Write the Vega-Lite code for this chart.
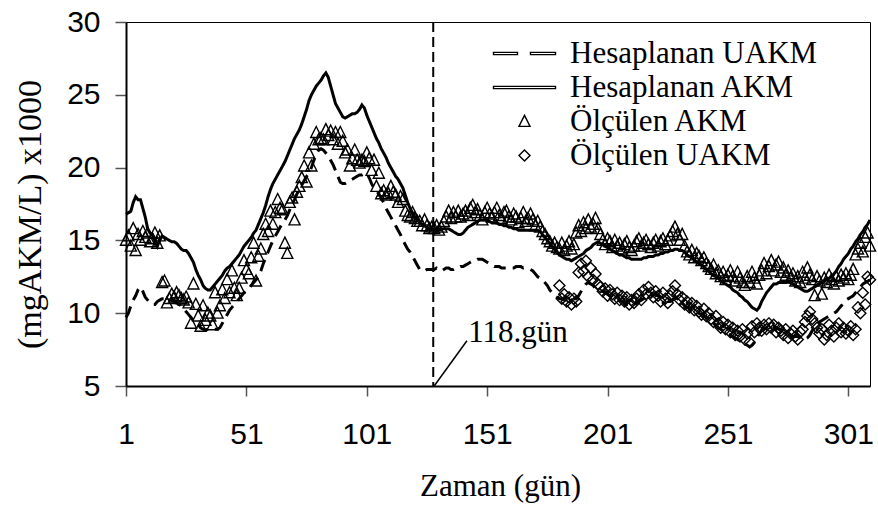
{
"$schema":"https://vega.github.io/schema/vega-lite/v6.json",
"width":744,"height":364,
"autosize":{"type":"none"},
"padding":{"left":126,"top":22,"right":8,"bottom":124},
"background":"white",
"config":{"view":{"stroke":"black","strokeWidth":1},"font":"Liberation Sans"},
"datasets":{"main":[
{"d":1,"A":16.8,"U":9.7,"a":15.0},{"d":2,"A":16.9,"U":10.0,"a":15.3},{"d":3,"A":17.0,"U":10.5,"a":14.6},{"d":4,"A":17.6,"U":10.9,"a":15.8},{"d":5,"A":18.0,"U":11.2,"a":14.3},
{"d":6,"A":17.8,"U":11.6,"a":15.4},{"d":7,"A":17.8,"U":11.8,"a":15.0},{"d":8,"A":17.2,"U":11.5,"a":15.6},{"d":9,"A":16.6,"U":11.1,"a":15.2},{"d":10,"A":15.8,"U":10.9,"a":15.5},
{"d":11,"A":15.5,"U":10.7,"a":14.9},{"d":12,"A":15.4,"U":10.6,"a":15.1},{"d":13,"A":15.0,"U":10.6,"a":15.5},{"d":14,"A":14.6,"U":10.8,"a":14.8},{"d":15,"A":15.0,"U":10.9,"a":15.3},
{"d":16,"A":15.3,"U":11.0,"a":12.1},{"d":17,"A":15.2,"U":11.0,"a":12.2},{"d":18,"A":15.1,"U":11.0,"a":10.7},{"d":19,"A":15.0,"U":11.0,"a":11.0},{"d":20,"A":14.9,"U":10.9,"a":11.3},
{"d":21,"A":14.9,"U":10.8,"a":11.1},{"d":22,"A":14.8,"U":10.7,"a":11.4},{"d":23,"A":14.6,"U":10.6,"a":11.2},{"d":24,"A":14.4,"U":10.5,"a":11.0},{"d":25,"A":14.3,"U":10.3,"a":10.9},
{"d":26,"A":14.3,"U":10.1,"a":11.1},{"d":27,"A":14.1,"U":9.9,"a":10.7},{"d":28,"A":13.8,"U":9.7,"a":9.3},{"d":29,"A":13.5,"U":9.5,"a":12.0},{"d":30,"A":13.0,"U":9.3,"a":10.6},
{"d":31,"A":12.6,"U":9.2,"a":9.8},{"d":32,"A":12.3,"U":9.0,"a":9.1},{"d":33,"A":11.9,"U":8.9,"a":10.5},{"d":34,"A":11.7,"U":8.85,"a":9.5},{"d":35,"A":11.6,"U":8.9,"a":10.0},
{"d":36,"A":11.6,"U":8.95,"a":9.8},{"d":37,"A":11.8,"U":8.9,"a":9.2},{"d":38,"A":12.0,"U":8.9,"a":11.4},{"d":39,"A":12.2,"U":8.9,"a":10.0},{"d":40,"A":12.4,"U":9.0,"a":10.5},
{"d":41,"A":12.6,"U":9.3,"a":11.6},{"d":42,"A":12.9,"U":9.6,"a":11.0},{"d":43,"A":13.1,"U":9.9,"a":12.3},{"d":44,"A":13.2,"U":10.2,"a":11.4},{"d":45,"A":13.4,"U":10.4,"a":12.9},
{"d":46,"A":13.6,"U":10.6,"a":11.7},{"d":47,"A":13.8,"U":10.8,"a":11.2},{"d":48,"A":14.0,"U":11.0,"a":11.7},{"d":49,"A":14.3,"U":11.2,"a":12.4},{"d":50,"A":14.6,"U":11.4,"a":13.6},
{"d":51,"A":14.8,"U":11.6,"a":13.0},{"d":52,"A":15.0,"U":11.7,"a":12.7},{"d":53,"A":15.2,"U":11.9,"a":13.8},{"d":54,"A":15.5,"U":12.1,"a":14.8},{"d":55,"A":15.7,"U":12.3,"a":12.2},
{"d":56,"A":16.1,"U":12.5,"a":13.9},{"d":57,"A":16.5,"U":12.9,"a":14.4},{"d":58,"A":16.9,"U":13.4,"a":15.4},{"d":59,"A":17.4,"U":13.8,"a":16.1},{"d":60,"A":18.0,"U":14.2,"a":15.6},
{"d":61,"A":18.5,"U":14.6,"a":17.0},{"d":62,"A":18.9,"U":15.0,"a":16.1},{"d":63,"A":19.2,"U":15.3,"a":16.9},{"d":64,"A":19.5,"U":15.6,"a":17.8},{"d":65,"A":19.8,"U":15.9,"a":17.2},
{"d":66,"A":20.1,"U":16.2,"a":17.1},{"d":67,"A":20.4,"U":16.4,"a":14.8},{"d":68,"A":20.8,"U":16.7,"a":14.1},{"d":69,"A":21.2,"U":17.1,"a":17.6},{"d":70,"A":21.6,"U":17.5,"a":17.9},
{"d":71,"A":22.0,"U":17.8,"a":16.4},{"d":72,"A":22.3,"U":18.2,"a":18.3},{"d":73,"A":22.6,"U":18.5,"a":18.7},{"d":74,"A":23.0,"U":18.8,"a":19.3},{"d":75,"A":23.5,"U":19.1,"a":20.1},
{"d":76,"A":24.0,"U":19.4,"a":19.0},{"d":77,"A":24.6,"U":19.6,"a":21.0},{"d":78,"A":25.0,"U":20.0,"a":20.1},{"d":79,"A":25.3,"U":20.5,"a":21.6},{"d":80,"A":25.6,"U":20.9,"a":22.4},
{"d":81,"A":25.8,"U":21.2,"a":21.9},{"d":82,"A":26.0,"U":21.3,"a":22.0},{"d":83,"A":26.3,"U":21.2,"a":21.9},{"d":84,"A":26.5,"U":21.0,"a":22.6},{"d":85,"A":26.2,"U":20.8,"a":22.2},
{"d":86,"A":25.6,"U":20.5,"a":22.5},{"d":87,"A":25.0,"U":20.2,"a":21.9},{"d":88,"A":24.4,"U":19.8,"a":22.4},{"d":89,"A":24.1,"U":19.4,"a":21.6},{"d":90,"A":23.8,"U":19.0,"a":22.4},
{"d":91,"A":23.5,"U":18.9,"a":21.8},{"d":92,"A":23.4,"U":18.9,"a":21.0},{"d":93,"A":23.5,"U":19.0,"a":21.2},{"d":94,"A":23.6,"U":19.1,"a":20.1},{"d":95,"A":23.7,"U":19.2,"a":20.6},
{"d":96,"A":23.7,"U":19.3,"a":21.2},{"d":97,"A":23.8,"U":19.4,"a":20.5},{"d":98,"A":24.0,"U":19.5,"a":20.3},{"d":99,"A":24.3,"U":19.5,"a":20.5},{"d":100,"A":24.1,"U":19.6,"a":20.4},
{"d":101,"A":23.6,"U":19.6,"a":21.0},{"d":102,"A":23.2,"U":19.3,"a":20.6},{"d":103,"A":22.8,"U":18.9,"a":19.8},{"d":104,"A":22.4,"U":18.6,"a":20.5},{"d":105,"A":22.0,"U":18.4,"a":18.7},
{"d":106,"A":21.7,"U":18.2,"a":19.6},{"d":107,"A":21.3,"U":17.9,"a":18.2},{"d":108,"A":21.0,"U":17.6,"a":18.4},{"d":109,"A":20.7,"U":17.2,"a":18.1},{"d":110,"A":20.3,"U":16.9,"a":18.2},
{"d":111,"A":20.0,"U":16.6,"a":18.7},{"d":112,"A":19.7,"U":16.3,"a":18.3},{"d":113,"A":19.4,"U":16.0,"a":18.1},{"d":114,"A":19.2,"U":15.7,"a":17.6},{"d":115,"A":18.9,"U":15.4,"a":18.0},
{"d":116,"A":18.6,"U":15.0,"a":17.8},{"d":117,"A":18.1,"U":14.7,"a":17.0},{"d":118,"A":17.6,"U":14.4,"a":16.7},{"d":119,"A":17.2,"U":14.2,"a":16.6},{"d":120,"A":16.9,"U":13.9,"a":16.9},
{"d":121,"A":16.6,"U":13.6,"a":16.5},{"d":122,"A":16.4,"U":13.3,"a":16.3},{"d":123,"A":16.2,"U":13.0,"a":16.3},{"d":124,"A":16.1,"U":12.9,"a":16.0},{"d":125,"A":16.0,"U":12.9,"a":16.4},
{"d":126,"A":15.9,"U":13.0,"a":16.0},{"d":127,"A":15.8,"U":13.0,"a":15.8},{"d":128,"A":15.8,"U":13.0,"a":15.9},{"d":129,"A":15.8,"U":13.0,"a":15.8},{"d":130,"A":15.8,"U":13.1,"a":16.0},
{"d":131,"A":15.8,"U":13.0,"a":15.7},{"d":132,"A":15.8,"U":12.9,"a":15.9},{"d":133,"A":15.8,"U":13.0,"a":16.3},{"d":134,"A":15.8,"U":13.1,"a":16.6},{"d":135,"A":15.8,"U":13.1,"a":17.0},
{"d":136,"A":15.7,"U":13.0,"a":16.5},{"d":137,"A":15.6,"U":13.0,"a":16.9},{"d":138,"A":15.5,"U":13.1,"a":16.6},{"d":139,"A":15.4,"U":13.1,"a":17.0},{"d":140,"A":15.4,"U":13.2,"a":16.6},
{"d":141,"A":15.5,"U":13.2,"a":16.8},{"d":142,"A":15.7,"U":13.3,"a":17.0},{"d":143,"A":15.9,"U":13.4,"a":16.7},{"d":144,"A":16.0,"U":13.5,"a":17.2},{"d":145,"A":16.1,"U":13.6,"a":17.4},
{"d":146,"A":16.2,"U":13.6,"a":16.9},{"d":147,"A":16.3,"U":13.7,"a":17.1},{"d":148,"A":16.4,"U":13.7,"a":16.7},{"d":149,"A":16.4,"U":13.7,"a":16.4},{"d":150,"A":16.4,"U":13.6,"a":16.9},
{"d":151,"A":16.4,"U":13.5,"a":17.2},{"d":152,"A":16.3,"U":13.4,"a":16.8},{"d":153,"A":16.2,"U":13.3,"a":16.6},{"d":154,"A":16.2,"U":13.2,"a":16.9},{"d":155,"A":16.2,"U":13.2,"a":17.2},
{"d":156,"A":16.1,"U":13.2,"a":16.7},{"d":157,"A":16.1,"U":13.1,"a":16.5},{"d":158,"A":16.0,"U":13.1,"a":16.9},{"d":159,"A":16.0,"U":13.1,"a":17.0},{"d":160,"A":15.9,"U":13.1,"a":16.6},
{"d":161,"A":15.9,"U":13.1,"a":16.4},{"d":162,"A":15.8,"U":13.1,"a":16.8},{"d":163,"A":15.8,"U":13.2,"a":16.6},{"d":164,"A":15.7,"U":13.2,"a":16.2},{"d":165,"A":15.7,"U":13.2,"a":16.5},
{"d":166,"A":15.7,"U":13.1,"a":16.9},{"d":167,"A":15.7,"U":13.1,"a":16.3},{"d":168,"A":15.7,"U":13.1,"a":16.5},{"d":169,"A":15.7,"U":13.0,"a":16.8},{"d":170,"A":15.7,"U":12.9,"a":16.4},
{"d":171,"A":15.7,"U":12.7,"a":16.0},{"d":172,"A":15.7,"U":12.5,"a":16.3},{"d":173,"A":15.6,"U":12.4,"a":15.9},{"d":174,"A":15.4,"U":12.3,"a":15.6},{"d":175,"A":15.2,"U":12.1,"a":15.4},
{"d":176,"A":15.0,"U":11.9,"a":15.1},{"d":177,"A":14.8,"U":11.6,"a":14.9},{"d":178,"A":14.6,"U":11.4,"a":14.6},{"d":179,"A":14.4,"U":11.2,"a":14.8},{"d":180,"A":14.2,"U":11.1,"a":14.5},
{"d":181,"A":14.0,"U":11.0,"a":14.4,"u":11.9},{"d":182,"A":13.9,"U":11.0,"a":14.8,"u":11.0},{"d":183,"A":13.8,"U":10.9,"a":14.3,"u":11.3},{"d":184,"A":13.7,"U":10.9,"a":14.6,"u":10.8},{"d":185,"A":13.7,"U":10.9,"a":14.9,"u":11.1},
{"d":186,"A":13.6,"U":10.9,"a":14.4,"u":10.6},{"d":187,"A":13.7,"U":11.0,"a":14.7,"u":11.0},{"d":188,"A":13.8,"U":11.0,"a":15.5,"u":10.8},{"d":189,"A":13.9,"U":11.2,"a":16.0,"u":12.8},{"d":190,"A":14.0,"U":11.5,"a":15.6,"u":13.4},
{"d":191,"A":14.1,"U":11.8,"a":16.2,"u":12.9},{"d":192,"A":14.3,"U":12.0,"a":15.8,"u":13.6},{"d":193,"A":14.4,"U":12.1,"a":16.4,"u":12.5},{"d":194,"A":14.5,"U":12.0,"a":15.9,"u":13.1},{"d":195,"A":14.7,"U":11.9,"a":16.1,"u":12.3},
{"d":196,"A":14.8,"U":11.7,"a":16.5,"u":12.7},{"d":197,"A":14.9,"U":11.6,"a":15.8,"u":12.0},{"d":198,"A":14.8,"U":11.5,"a":15.4,"u":11.8},{"d":199,"A":14.7,"U":11.5,"a":15.0,"u":11.5},{"d":200,"A":14.6,"U":11.4,"a":14.7,"u":11.7},
{"d":201,"A":14.5,"U":11.3,"a":15.1,"u":11.2},{"d":202,"A":14.4,"U":11.2,"a":14.9,"u":11.6},{"d":203,"A":14.3,"U":11.1,"a":14.5,"u":11.3},{"d":204,"A":14.2,"U":11.1,"a":15.0,"u":11.0},{"d":205,"A":14.1,"U":11.0,"a":14.6,"u":11.4},
{"d":206,"A":14.0,"U":10.9,"a":14.8,"u":10.9},{"d":207,"A":14.0,"U":10.8,"a":14.4,"u":11.2},{"d":208,"A":13.9,"U":10.7,"a":14.7,"u":10.8},{"d":209,"A":13.8,"U":10.6,"a":14.9,"u":11.1},{"d":210,"A":13.8,"U":10.6,"a":14.5,"u":10.6},
{"d":211,"A":13.7,"U":10.5,"a":14.3,"u":10.9},{"d":212,"A":13.7,"U":10.6,"a":14.6,"u":10.7},{"d":213,"A":13.7,"U":10.7,"a":14.9,"u":11.0},{"d":214,"A":13.7,"U":10.8,"a":15.1,"u":11.3},{"d":215,"A":13.7,"U":10.9,"a":14.6,"u":10.9},
{"d":216,"A":13.8,"U":11.0,"a":14.8,"u":11.6},{"d":217,"A":13.8,"U":11.1,"a":15.0,"u":11.3},{"d":218,"A":13.9,"U":11.2,"a":14.7,"u":11.8},{"d":219,"A":13.9,"U":11.2,"a":14.5,"u":11.4},{"d":220,"A":13.9,"U":11.3,"a":14.8,"u":11.1},
{"d":221,"A":14.0,"U":11.3,"a":15.0,"u":11.5},{"d":222,"A":14.0,"U":11.2,"a":14.6,"u":11.2},{"d":223,"A":14.1,"U":11.1,"a":14.9,"u":10.8},{"d":224,"A":14.1,"U":11.0,"a":15.1,"u":11.4},{"d":225,"A":14.2,"U":10.9,"a":14.7,"u":11.0},
{"d":226,"A":14.2,"U":10.8,"a":15.0,"u":10.7},{"d":227,"A":14.3,"U":10.8,"a":15.3,"u":11.2},{"d":228,"A":14.3,"U":10.9,"a":15.6,"u":11.5},{"d":229,"A":14.4,"U":11.0,"a":15.9,"u":11.9},{"d":230,"A":14.4,"U":11.1,"a":15.4,"u":11.3},
{"d":231,"A":14.3,"U":10.9,"a":15.0,"u":10.9},{"d":232,"A":14.3,"U":10.7,"a":15.4,"u":11.1},{"d":233,"A":14.2,"U":10.5,"a":14.6,"u":10.6},{"d":234,"A":14.0,"U":10.4,"a":14.2,"u":10.8},{"d":235,"A":13.9,"U":10.3,"a":14.0,"u":10.4},
{"d":236,"A":13.8,"U":10.2,"a":14.3,"u":10.7},{"d":237,"A":13.7,"U":10.1,"a":13.8,"u":10.2},{"d":238,"A":13.5,"U":10.0,"a":14.1,"u":10.5},{"d":239,"A":13.4,"U":10.0,"a":13.9,"u":10.1},{"d":240,"A":13.3,"U":9.9,"a":13.6,"u":9.9},
{"d":241,"A":13.2,"U":9.8,"a":13.8,"u":10.3},{"d":242,"A":13.0,"U":9.7,"a":13.4,"u":9.8},{"d":243,"A":12.9,"U":9.6,"a":13.2,"u":10.0},{"d":244,"A":12.7,"U":9.4,"a":13.0,"u":9.6},{"d":245,"A":12.6,"U":9.3,"a":13.3,"u":9.4},
{"d":246,"A":12.5,"U":9.2,"a":12.7,"u":9.8},{"d":247,"A":12.4,"U":9.0,"a":12.9,"u":9.3},{"d":248,"A":12.2,"U":8.9,"a":12.5,"u":9.0},{"d":249,"A":12.1,"U":8.8,"a":12.8,"u":9.4},{"d":250,"A":12.0,"U":8.7,"a":12.3,"u":8.9},
{"d":251,"A":11.9,"U":8.6,"a":12.6,"u":9.2},{"d":252,"A":11.8,"U":8.5,"a":12.9,"u":8.7},{"d":253,"A":11.6,"U":8.4,"a":12.5,"u":9.0},{"d":254,"A":11.5,"U":8.3,"a":12.2,"u":8.5},{"d":255,"A":11.4,"U":8.2,"a":12.8,"u":8.8},
{"d":256,"A":11.2,"U":8.1,"a":12.4,"u":8.4},{"d":257,"A":11.1,"U":8.0,"a":12.1,"u":8.9},{"d":258,"A":10.9,"U":7.9,"a":11.9,"u":8.2},{"d":259,"A":10.8,"U":7.8,"a":12.5,"u":8.6},{"d":260,"A":10.6,"U":7.7,"a":12.1,"u":8.0},
{"d":261,"A":10.4,"U":7.8,"a":12.8,"u":9.1},{"d":262,"A":10.3,"U":8.0,"a":12.4,"u":8.7},{"d":263,"A":10.2,"U":8.3,"a":12.0,"u":9.3},{"d":264,"A":10.4,"U":8.6,"a":12.6,"u":9.0},{"d":265,"A":10.8,"U":8.8,"a":12.9,"u":8.8},
{"d":266,"A":11.1,"U":8.9,"a":13.4,"u":9.2},{"d":267,"A":11.4,"U":9.0,"a":12.7,"u":8.9},{"d":268,"A":11.6,"U":9.0,"a":13.2,"u":9.3},{"d":269,"A":11.8,"U":9.1,"a":13.6,"u":9.0},{"d":270,"A":12.0,"U":9.1,"a":12.9,"u":9.2},
{"d":271,"A":12.0,"U":9.0,"a":13.3,"u":8.7},{"d":272,"A":12.1,"U":8.9,"a":13.5,"u":9.0},{"d":273,"A":12.1,"U":8.9,"a":12.8,"u":8.8},{"d":274,"A":12.1,"U":8.8,"a":13.1,"u":8.5},{"d":275,"A":12.1,"U":8.7,"a":12.6,"u":8.9},
{"d":276,"A":12.2,"U":8.6,"a":12.9,"u":8.3},{"d":277,"A":12.1,"U":8.5,"a":12.4,"u":8.6},{"d":278,"A":12.0,"U":8.4,"a":12.7,"u":8.8},{"d":279,"A":11.9,"U":8.4,"a":12.2,"u":8.4},{"d":280,"A":11.8,"U":8.4,"a":12.5,"u":8.2},
{"d":281,"A":11.7,"U":8.3,"a":12.1,"u":8.7},{"d":282,"A":11.6,"U":8.2,"a":12.8,"u":8.9},{"d":283,"A":11.5,"U":8.2,"a":12.4,"u":9.4},{"d":284,"A":11.5,"U":8.3,"a":13.1,"u":9.8},{"d":285,"A":11.6,"U":8.5,"a":12.6,"u":10.1},
{"d":286,"A":11.7,"U":8.8,"a":12.3,"u":9.6},{"d":287,"A":11.8,"U":9.0,"a":11.2,"u":9.3},{"d":288,"A":11.9,"U":9.2,"a":12.5,"u":9.0},{"d":289,"A":12.0,"U":9.4,"a":12.2,"u":8.6},{"d":290,"A":12.1,"U":9.5,"a":11.3,"u":8.9},
{"d":291,"A":12.2,"U":9.6,"a":12.4,"u":8.2},{"d":292,"A":12.3,"U":9.7,"a":12.1,"u":8.5},{"d":293,"A":12.4,"U":9.8,"a":12.6,"u":9.2},{"d":294,"A":12.5,"U":9.9,"a":12.3,"u":8.8},{"d":295,"A":12.7,"U":10.0,"a":12.0,"u":8.4},
{"d":296,"A":12.9,"U":10.1,"a":12.5,"u":9.0},{"d":297,"A":13.2,"U":10.3,"a":12.2,"u":9.3},{"d":298,"A":13.4,"U":10.5,"a":12.6,"u":8.7},{"d":299,"A":13.7,"U":10.7,"a":12.4,"u":9.0},{"d":300,"A":13.9,"U":10.9,"a":12.7,"u":8.6},
{"d":301,"A":14.1,"U":11.0,"a":12.3,"u":8.8},{"d":302,"A":14.4,"U":11.1,"a":12.6,"u":9.1},{"d":303,"A":14.6,"U":11.2,"a":13.0,"u":8.5},{"d":304,"A":14.9,"U":11.4,"a":14.0,"u":8.9},{"d":305,"A":15.1,"U":11.6,"a":14.4,"u":10.4},
{"d":306,"A":15.4,"U":11.8,"a":14.8,"u":10.0},{"d":307,"A":15.6,"U":12.0,"a":14.2,"u":11.4},{"d":308,"A":15.9,"U":12.1,"a":15.2,"u":10.6},{"d":309,"A":16.1,"U":12.2,"a":15.5,"u":12.5},{"d":310,"A":16.4,"U":12.3,"a":14.6,"u":12.3}
]},
"layer":[
{"data":{"values":[{"d":128.6}]},
 "mark":{"type":"rule","color":"black","strokeWidth":2,"strokeDash":[10,5]},
 "encoding":{"x":{"field":"d","type":"quantitative","scale":{"domain":[1,310],"nice":false,"zero":false}}}},
{"data":{"name":"main"},
 "transform":[{"fold":["U","A"],"as":["k","v"]}],
 "mark":{"type":"line","color":"black","strokeWidth":3},
 "encoding":{
  "x":{"field":"d","type":"quantitative","scale":{"domain":[1,310],"nice":false,"zero":false},"title":"Zaman (gün)",
   "axis":{"values":[1,51,101,151,201,251,301],"domainColor":"black","domainWidth":2,"tickColor":"#555555","tickWidth":1.5,"tickSize":10,"labelFont":"Liberation Sans","labelFontSize":30,"labelColor":"black","labelPadding":23,"labelFlush":false,"labelOverlap":false,"grid":false,"titleFont":"Liberation Serif","titleFontSize":31,"titleFontWeight":"normal","titleColor":"black","titleX":374,"titleY":109,"titleBaseline":"alphabetic","titleAlign":"center"}},
  "y":{"field":"v","type":"quantitative","scale":{"domain":[5,30],"nice":false,"zero":false},"title":"(mgAKM/L) x1000",
   "axis":{"values":[5,10,15,20,25,30],"domainColor":"black","domainWidth":2,"tickColor":"#555555","tickWidth":1.5,"tickSize":11,"labelFont":"Liberation Sans","labelFontSize":30,"labelColor":"black","labelPadding":15,"labelFlush":false,"labelOverlap":false,"grid":false,"titleFont":"Liberation Serif","titleFontSize":34,"titleFontWeight":"normal","titleColor":"black","titleX":-86,"titleY":192,"titleBaseline":"alphabetic","titleAlign":"center","titleAngle":-90}},
  "strokeDash":{"field":"k","type":"nominal","scale":{"domain":["U","A"],"range":[[12,7],[1,0]]},"legend":null}
 }},
{"data":{"name":"main"},
 "transform":[{"fold":["a","u"],"as":["k","v"]},{"filter":"isValid(datum.v)"}],
 "mark":{"type":"point","filled":false,"size":169,"opacity":1,"strokeWidth":1.4},
 "encoding":{
  "x":{"field":"d","type":"quantitative","scale":{"domain":[1,310],"nice":false,"zero":false}},
  "y":{"field":"v","type":"quantitative","scale":{"domain":[5,30],"nice":false,"zero":false}},
  "color":{"field":"k","type":"nominal","scale":{"domain":["U","A","a","u"],"range":["black","black","black","black"]},
   "legend":{"orient":"none","legendX":383,"legendY":16,"title":null,"labelExpr":"datum.value == 'U' ? 'Hesaplanan UAKM' : datum.value == 'A' ? 'Hesaplanan AKM' : datum.value == 'a' ? 'Ölçülen AKM' : 'Ölçülen UAKM'","labelFont":"Liberation Serif","labelFontSize":31,"labelColor":"black","labelOffset":30,"labelLimit":400,"symbolSize":169,"symbolStrokeWidth":1.4,"rowPadding":2,"padding":0}},
  "shape":{"field":"k","type":"nominal","scale":{"domain":["U","A","a","u"],"range":["M-4.77,-0.17L-1.08,-0.17L-1.08,0.17L-4.77,0.17ZM0.92,-0.17L4.77,-0.17L4.77,0.17L0.92,0.17Z","M-4.77,-0.17L4.77,-0.17L4.77,0.17L-4.77,0.17Z","M0,-0.95L0.85,0.75L-0.85,0.75Z","M0,-0.85L0.85,0L0,0.85L-0.85,0Z"]},
   "legend":{"orient":"none","legendX":383,"legendY":16,"title":null,"labelExpr":"datum.value == 'U' ? 'Hesaplanan UAKM' : datum.value == 'A' ? 'Hesaplanan AKM' : datum.value == 'a' ? 'Ölçülen AKM' : 'Ölçülen UAKM'","labelFont":"Liberation Serif","labelFontSize":31,"labelColor":"black","labelOffset":30,"labelLimit":400,"symbolSize":169,"symbolStrokeWidth":1.4,"rowPadding":2,"padding":0}}
 }},
{"data":{"values":[{"d":128.98,"v":5,"d2":142.6,"v2":8.11}]},
 "mark":{"type":"rule","color":"black","strokeWidth":1.5},
 "encoding":{"x":{"field":"d","type":"quantitative","scale":{"domain":[1,310],"nice":false,"zero":false}},"y":{"field":"v","type":"quantitative","scale":{"domain":[5,30],"nice":false,"zero":false}},"x2":{"field":"d2"},"y2":{"field":"v2"}}},
{"data":{"values":[{"d":143.1,"v":8.0,"t":"118.gün"}]},
 "mark":{"type":"text","align":"left","baseline":"alphabetic","font":"Liberation Serif","fontSize":31,"color":"black"},
 "encoding":{"x":{"field":"d","type":"quantitative","scale":{"domain":[1,310],"nice":false,"zero":false}},"y":{"field":"v","type":"quantitative","scale":{"domain":[5,30],"nice":false,"zero":false}},"text":{"field":"t"}}}
]
}
